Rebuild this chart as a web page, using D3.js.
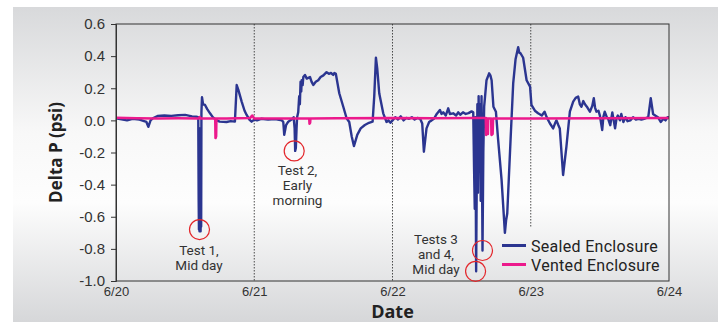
<!DOCTYPE html>
<html>
<head>
<meta charset="utf-8">
<script src="https://cdn.jsdelivr.net/npm/d3@7"></script>
<style>
  body { margin: 0; background: #fff; }
  svg { display: block; font-family: "Open Sans", "Noto Sans", sans-serif; }
  .note, .legend text { font-family: Roboto, "Open Sans", sans-serif; }
</style>
</head>
<body>
<div class="chart"></div>
<script>
// days since 6/20 00:00
const sealedDays = [0.00,0.05,0.08,0.12,0.17,0.22,0.234,0.25,0.27,0.30,0.35,0.40,0.45,0.50,0.55,0.58,0.595,0.598,0.600,0.602,0.604,0.606,0.608,0.610,0.612,0.614,0.616,0.618,0.622,0.63,0.644,0.66,0.68,0.70,0.728,0.75,0.80,0.83,0.86,0.873,0.885,0.909,0.93,0.945,0.965,0.981,
  1.00,1.02,1.05,1.10,1.15,1.20,1.21,1.217,1.23,1.246,1.27,1.285,1.292,1.296,1.301,1.306,1.310,1.318,1.325,1.330,1.335,1.340,1.343,1.350,1.355,1.367,1.38,1.403,1.415,1.427,1.445,1.463,1.48,1.50,1.523,1.54,1.555,1.571,1.58,1.59,1.615,1.644,1.668,1.687,1.705,1.721,1.735,1.745,1.77,1.80,1.83,1.856,1.868,1.88,1.89,1.904,1.933,1.957,1.97,1.985,
  2.00,2.02,2.04,2.06,2.08,2.10,2.12,2.14,2.16,2.18,2.20,2.215,2.227,2.246,2.265,2.283,2.30,2.32,2.343,2.355,2.367,2.385,2.403,2.415,2.439,2.46,2.475,2.49,2.51,2.53,2.55,2.572,2.584,2.590,2.595,2.600,2.605,2.610,2.614,2.618,2.623,2.628,2.633,2.638,2.644,2.651,2.657,2.663,2.68,2.699,2.708,2.717,2.73,2.748,2.764,2.789,2.813,2.822,2.83,2.854,2.873,2.89,2.909,2.918,2.926,2.945,2.97,2.995,
  3.005,3.03,3.053,3.08,3.10,3.115,3.138,3.162,3.175,3.186,3.20,3.21,3.234,3.258,3.283,3.307,3.325,3.343,3.355,3.367,3.38,3.392,3.41,3.428,3.445,3.456,3.465,3.475,3.49,3.50,3.517,3.525,3.535,3.55,3.56,3.575,3.59,3.60,3.61,3.62,3.63,3.645,3.655,3.67,3.685,3.70,3.72,3.74,3.76,3.78,3.80,3.82,3.85,3.868,3.885,3.90,3.92,3.94,3.96,3.975,3.99,4.00];
const sealedValues = [0.013,0.005,0.0,0.01,0.005,-0.01,-0.04,0.0,0.015,0.027,0.03,0.028,0.032,0.034,0.025,0.023,0.02,-0.5,-0.68,-0.1,-0.69,-0.05,-0.68,-0.1,-0.69,-0.1,-0.66,0.05,0.144,0.10,0.096,0.07,0.044,0.02,0.0,-0.008,-0.01,-0.005,-0.008,0.22,0.19,0.117,0.06,0.034,0.005,-0.008,
  0.005,0.0,0.01,0.005,0.008,0.0,-0.01,-0.09,-0.03,-0.008,0.005,0.02,-0.05,-0.19,-0.17,-0.05,0.02,0.05,0.15,0.10,0.24,0.18,0.25,0.22,0.27,0.283,0.26,0.27,0.24,0.22,0.24,0.25,0.27,0.28,0.30,0.29,0.295,0.283,0.295,0.29,0.169,0.085,0.013,-0.01,-0.1,-0.16,-0.12,-0.09,-0.05,-0.029,-0.015,-0.008,0.15,0.39,0.32,0.169,0.044,-0.01,0.0,-0.015,
  0.0,0.02,0.005,0.025,0.0,0.015,0.01,0.02,0.005,0.015,0.01,-0.02,-0.195,-0.05,-0.01,0.0,0.01,0.04,0.065,0.04,0.05,0.03,0.075,0.04,0.044,0.03,0.05,0.035,0.05,0.04,0.045,0.056,0.05,-0.3,-0.55,0.02,-0.94,-0.3,0.1,-0.45,0.15,-0.2,0.10,-0.5,0.15,-0.81,-0.2,0.085,0.25,0.293,0.28,0.25,0.085,0.054,-0.12,-0.37,-0.70,-0.62,-0.58,-0.12,0.23,0.38,0.455,0.42,0.418,0.39,0.25,0.21,
  0.096,0.06,0.044,0.03,0.054,0.02,-0.018,-0.05,-0.02,0.0,-0.03,-0.05,-0.34,-0.164,0.054,0.117,0.14,0.148,0.1,0.085,0.12,0.1,0.08,0.054,0.09,0.138,0.08,0.054,0.06,0.03,-0.06,0.02,0.054,0.02,0.01,-0.03,0.05,0.0,-0.05,0.01,0.03,0.0,0.04,-0.01,0.02,-0.005,0.0,0.02,0.005,0.01,0.005,0.01,0.02,0.138,0.04,0.03,0.02,-0.01,0.01,0.0,0.02,0.02];

const ventedDays = [0.00,0.15,0.30,0.45,0.60,0.605,0.61,0.70,0.718,0.720,0.724,0.726,0.80,0.97,0.985,1.00,1.20,1.398,1.40,1.404,1.406,1.60,2.00,2.30,2.60,2.675,2.677,2.683,2.686,2.690,2.692,2.714,2.716,2.724,2.727,3.00,3.50,4.00];
const ventedValues = [0.016,0.013,0.012,0.013,0.012,0.02,0.012,0.012,0.012,-0.11,-0.10,0.012,0.012,0.015,0.03,0.012,0.012,0.012,-0.02,-0.015,0.012,0.013,0.014,0.013,0.015,0.015,-0.09,-0.08,0.012,-0.085,0.012,0.012,-0.09,-0.085,0.012,0.012,0.013,0.015];

const xTickDays = [0, 1, 2, 3, 4];
const xTickLabels = ['6/20', '6/21', '6/22', '6/23', '6/24'];
const yTicks = [0.6, 0.4, 0.2, 0.0, -0.2, -0.4, -0.6, -0.8, -1.0];
const dayLines = [1, 2, 3];

const testCircleDays = [0.604, 1.289, 2.601, 2.651];
const testCircleValues = [-0.68, -0.19, -0.94, -0.81];

const noteLines = [['Test 1,', 'Mid day'], ['Test 2,', 'Early', 'morning'], ['Tests 3', 'and 4,', 'Mid day']];
const noteX = [199, 297.5, 436];
const noteY = [255, 175, 243.5];

const seriesNames = ['Sealed Enclosure', 'Vented Enclosure'];
const seriesColors = ['#2b3590', '#ec1a8c'];

const width = 718, height = 322;
const margin = {top: 24, right: 49, bottom: 41, left: 116};

const svg = d3.select('.chart').append('svg')
  .attr('width', width)
  .attr('height', height);

const grad = svg.append('defs').append('linearGradient')
  .attr('id', 'bg').attr('x1', 0).attr('y1', 0).attr('x2', 0).attr('y2', 1);
grad.append('stop').attr('offset', '0%').attr('stop-color', '#d8d9db');
grad.append('stop').attr('offset', '40%').attr('stop-color', '#f8f8f8');
grad.append('stop').attr('offset', '62%').attr('stop-color', '#fdfdfd');
grad.append('stop').attr('offset', '100%').attr('stop-color', '#d6d7d9');

svg.append('rect')
  .attr('x', 13).attr('y', 7)
  .attr('width', width - 13).attr('height', height - 7)
  .attr('fill', 'url(#bg)');

const x = d3.scaleLinear()
  .domain([0, 4])
  .range([margin.left, width - margin.right]);

const y = d3.scaleLinear()
  .domain([-1.0, 0.6])
  .range([height - margin.bottom, margin.top]);

// dotted day separators
svg.selectAll('.dayline')
  .data(dayLines)
  .enter()
  .append('line')
  .attr('x1', d => x(d)).attr('x2', d => x(d))
  .attr('y1', y(0.6))
  .attr('y2', d => d === 3 ? y(-0.67) : y(-1.0))
  .attr('stroke', '#222')
  .attr('stroke-width', 0.8)
  .attr('stroke-dasharray', '1.5,1.5');

const line = d3.line()
  .x(d => x(d[0]))
  .y(d => y(d[1]));

svg.append('path')
  .datum(sealedDays.map((d, i) => [d, sealedValues[i]]))
  .attr('d', line)
  .attr('fill', 'none')
  .attr('stroke', seriesColors[0])
  .attr('stroke-width', 2.4)
  .attr('stroke-linejoin', 'round');

svg.append('path')
  .datum(ventedDays.map((d, i) => [d, ventedValues[i]]))
  .attr('d', line)
  .attr('fill', 'none')
  .attr('stroke', seriesColors[1])
  .attr('stroke-width', 2.6)
  .attr('stroke-linejoin', 'round');

// frame
svg.append('rect')
  .attr('x', x(0)).attr('y', y(0.6))
  .attr('width', x(4) - x(0)).attr('height', y(-1.0) - y(0.6))
  .attr('fill', 'none')
  .attr('stroke', '#333')
  .attr('stroke-width', 1);

const yAxis = svg.append('g')
  .attr('transform', `translate(${x(0)},0)`)
  .call(d3.axisLeft(y).tickValues(yTicks).tickSize(5).tickPadding(6).tickFormat(d => d.toFixed(1)));
yAxis.select('.domain').attr('stroke', '#333');
yAxis.selectAll('line').attr('stroke', '#333');
yAxis.selectAll('text').attr('font-size', 15).attr('fill', '#333').attr('font-family', 'inherit');

const xAxis = svg.append('g')
  .attr('transform', `translate(0,${y(-1.0)})`)
  .call(d3.axisBottom(x).tickValues(xTickDays).tickSize(0).tickPadding(6).tickFormat((d, i) => xTickLabels[i]));
xAxis.select('.domain').remove();
xAxis.selectAll('text').attr('font-size', 13).attr('fill', '#333').attr('font-family', 'inherit');

svg.append('text')
  .attr('x', x(2)).attr('y', 318)
  .attr('text-anchor', 'middle')
  .attr('font-size', 18).attr('font-weight', 'bold').attr('fill', '#222')
  .text('Date');

svg.append('text')
  .attr('transform', `translate(62,${y(-0.2)}) rotate(-90)`)
  .attr('text-anchor', 'middle')
  .attr('font-size', 17).attr('font-weight', 'bold').attr('fill', '#222')
  .text('Delta P (psi)');

// test markers
svg.selectAll('.mark')
  .data(testCircleDays)
  .enter()
  .append('circle')
  .attr('cx', d => x(d))
  .attr('cy', (d, i) => y(testCircleValues[i]))
  .attr('r', 10)
  .attr('fill', 'none')
  .attr('stroke', '#e3262b')
  .attr('stroke-width', 1.2);

noteLines.forEach((lines, i) => {
  lines.forEach((s, j) => {
    svg.append('text')
      .attr('class', 'note')
      .attr('text-anchor', 'middle')
      .attr('font-size', 13.5)
      .attr('fill', '#333')
      .attr('x', noteX[i])
      .attr('y', noteY[i] + j * 15)
      .text(s);
  });
});

// legend
const legend = svg.selectAll('.legend')
  .data(seriesNames)
  .enter()
  .append('g')
  .attr('class', 'legend')
  .attr('transform', (d, i) => `translate(502,${245.5 + i * 19})`);
legend.append('line')
  .attr('x1', 0).attr('x2', 24)
  .attr('stroke', (d, i) => seriesColors[i])
  .attr('stroke-width', 3);
legend.append('text')
  .attr('x', 29).attr('y', 6)
  .attr('font-size', 16)
  .attr('letter-spacing', 0.3)
  .attr('fill', '#222')
  .text(d => d);
</script>
</body>
</html>
